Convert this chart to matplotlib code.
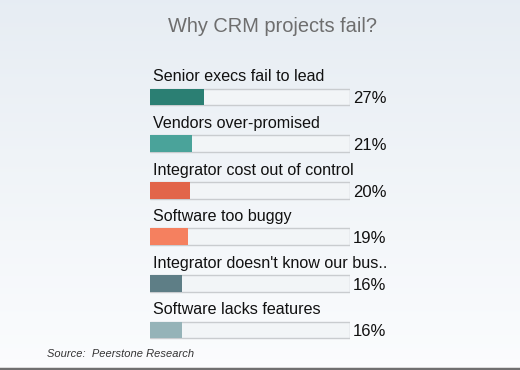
import matplotlib
matplotlib.use("Agg")
import matplotlib.pyplot as plt
import numpy as np

title = "Why CRM projects fail?"
categories = ["Senior execs fail to lead", "Vendors over-promised",
              "Integrator cost out of control", "Software too buggy",
              "Integrator doesn't know our bus..", "Software lacks features"]
values = [27, 21, 20, 19, 16, 16]
colors = ["#2b7f73", "#4aa39a", "#e2654a", "#f5805f", "#5e7e86", "#95b3b8"]
source = "Source:  Peerstone Research"

plt.rcParams['font.family'] = ['Liberation Sans', 'DejaVu Sans']

W, H = 520, 370
fig = plt.figure(figsize=(W / 100, H / 100), dpi=100)

# background gradient
bg = fig.add_axes([0, 0, 1, 1])
grad = np.linspace(0, 1, 256).reshape(-1, 1)
c_top = np.array([0.905, 0.929, 0.953])
c_bot = np.array([0.985, 0.99, 0.995])
img = c_top[None, None, :] * (1 - grad[:, :, None]) + c_bot[None, None, :] * grad[:, :, None]
bg.imshow(img, aspect='auto', extent=[0, 1, 0, 1])
bg.plot([0.0, 1.0], [0.003, 0.003], color="#707070", lw=2.5, transform=bg.transAxes)
bg.set_xlim(0, 1); bg.set_ylim(0, 1)
bg.axis('off')

fig.text(272 / W, 1 - 26 / H, title, ha='center', va='center', fontsize=14.4, color='#6e6e6e')
fig.text(47 / W, 1 - 354 / H, source, ha='left', va='center', fontsize=8,
         style='italic', color='#333333')

# bar axes: x 150..350 px, y index -0.5 at 73.7px, 5.5 at 353.3px
top_px, bot_px = 73.7, 353.3
ax = fig.add_axes([150 / W, 1 - bot_px / H, 200 / W, (bot_px - top_px) / H])
ax.patch.set_alpha(0)
n = len(categories)
y = np.arange(n)
bh = 0.36
ax.barh(y, [100] * n, height=bh, color="#f2f5f7", edgecolor="#c9cccf", linewidth=1.0, zorder=1)
ax.barh(y, values, height=bh, color=colors, edgecolor='none', zorder=2)
for i, (c, v) in enumerate(zip(categories, values)):
    ax.text(1.5, i - 0.43, c, ha='left', va='center', fontsize=11.6, color='#111111')
    ax.text(101.5, i + 0.04, f"{v}%", ha='left', va='center', fontsize=12, color='#111111',
            clip_on=False)
ax.set_xlim(0, 100)
ax.set_ylim(n - 0.5, -0.5)
ax.axis('off')

fig.savefig("out.png", dpi=100)
